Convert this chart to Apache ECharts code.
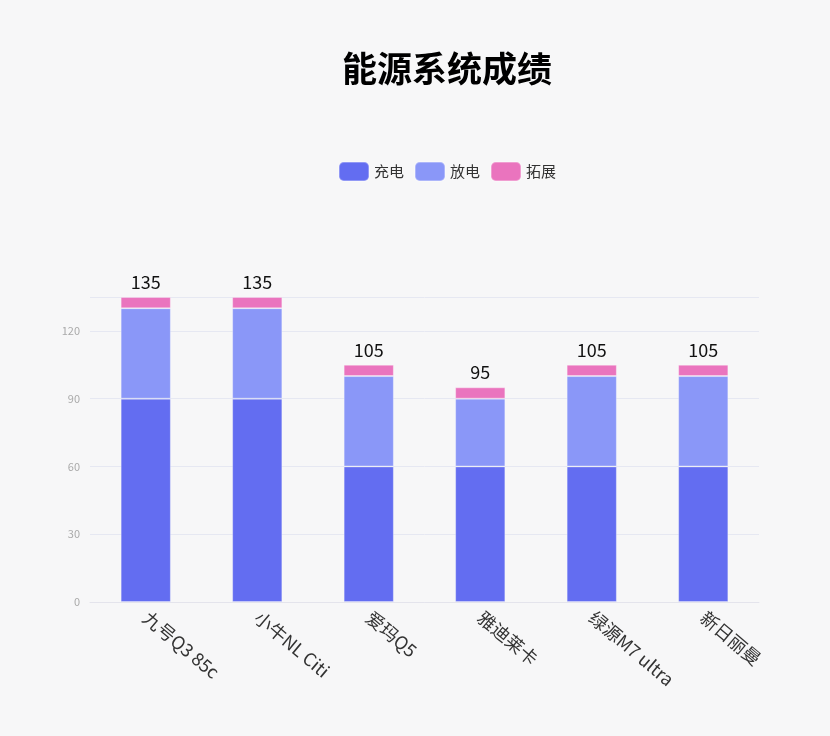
<!DOCTYPE html>
<html><head><meta charset="utf-8">
<script src="https://cdn.jsdelivr.net/npm/echarts@6/dist/echarts.min.js"></script>
<style>html,body{margin:0;padding:0;background:#f7f7f8;}#c{width:830px;height:736px;}</style>
</head><body><div id="c"></div>
<script>
const categories = ['九号Q3 85c','小牛NL Citi','爱玛Q5','雅迪莱卡','绿源M7 ultra','新日丽曼'];
const charge = [90,90,60,60,60,60];
const discharge = [40,40,40,30,40,40];
const expand = [5,5,5,5,5,5];
const totals = categories.map((_, i) => charge[i] + discharge[i] + expand[i]);
const yTicks = [0,30,60,90,120];

const chart = echarts.init(document.getElementById('c'));
const font = '"Noto Sans CJK SC","Noto Sans",sans-serif';
const border = { borderColor: 'rgba(255,255,255,0.3)', borderWidth: 1 };
chart.setOption({
  backgroundColor: '#f7f7f8',
  title: { text: '能源系统成绩', left: 337, top: 46, textStyle: { fontSize: 35, fontWeight: 'bold', color: '#000', fontFamily: font } },
  legend: { top: 156, left: 333, itemWidth: 30, itemHeight: 19, itemGap: 10, icon: 'roundRect',
    textStyle: { fontSize: 15, color: '#333', fontFamily: font } },
  grid: { left: 90, right: 71, top: 297, bottom: 134 },
  xAxis: { type: 'category', data: categories,
    axisLine: { lineStyle: { color: '#e4e4ec' } }, axisTick: { show: false },
    axisLabel: { rotate: -40, fontSize: 18, color: '#333', fontFamily: font, margin: 13, interval: 0 } },
  yAxis: { type: 'value', min: 0, max: 135, interval: 30,
    axisLine: { show: false }, axisTick: { show: false },
    splitLine: { lineStyle: { color: '#e6e8f2' } },
    axisLabel: { color: '#aaa', fontSize: 11, fontFamily: font, margin: 10,
      formatter: v => yTicks.includes(v) ? String(v) : '' } },
  series: [
    { name: '充电', type: 'bar', stack: 't', data: charge, barWidth: '45%',
      itemStyle: Object.assign({ color: '#636df1' }, border) },
    { name: '放电', type: 'bar', stack: 't', data: discharge,
      itemStyle: Object.assign({ color: '#8a97f8' }, border) },
    { name: '拓展', type: 'bar', stack: 't', data: expand,
      itemStyle: Object.assign({ color: '#ea74be' }, border),
      label: { show: true, position: 'top', fontSize: 18, color: '#111', fontFamily: font, distance: 6,
        formatter: p => String(totals[p.dataIndex]) } }
  ]
});
</script></body></html>
